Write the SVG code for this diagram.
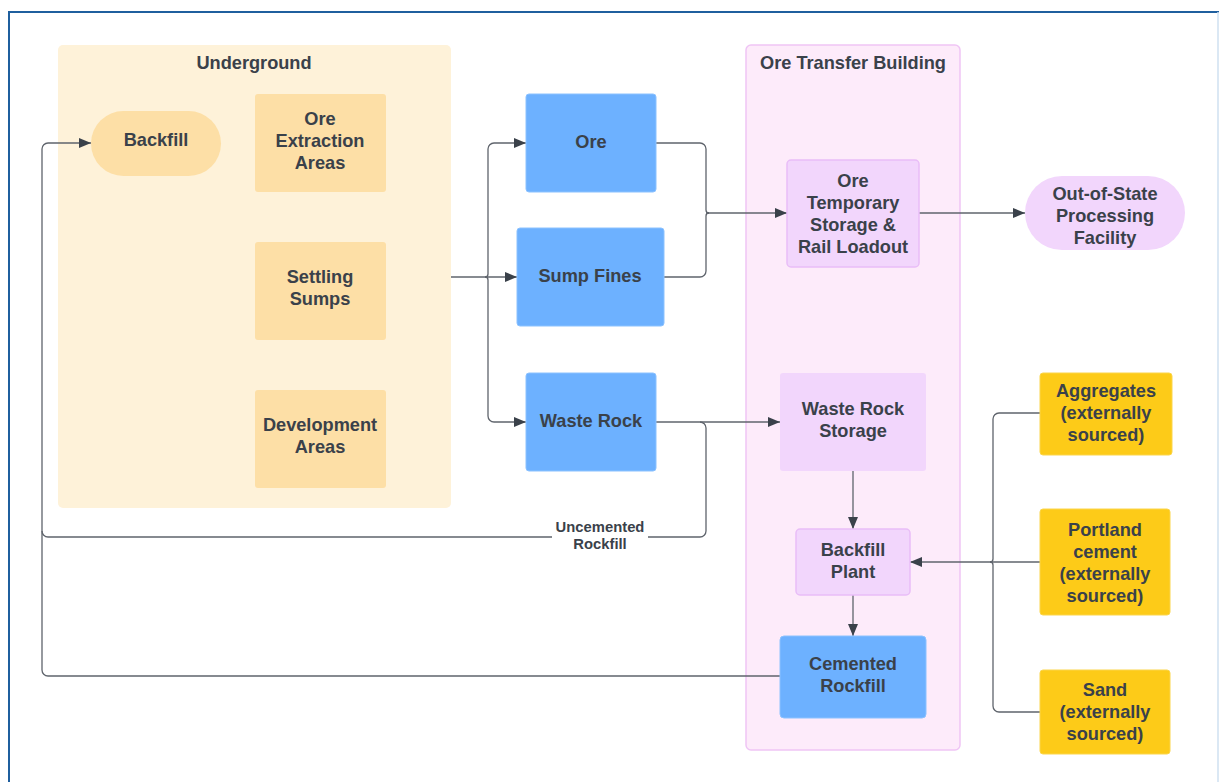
<svg xmlns="http://www.w3.org/2000/svg" width="1219" height="782" viewBox="0 0 1219 782">
<defs>
<marker id="arr" viewBox="0 0 12 10" refX="12" refY="5" markerWidth="12" markerHeight="10" markerUnits="userSpaceOnUse" orient="auto">
<path d="M0,0 L12,5 L0,10 Z" fill="#3a414a"/>
</marker>
<style>
text{font-family:"Liberation Sans",Arial,sans-serif;font-weight:bold;font-size:18.2px;fill:#3a414a;text-anchor:middle;dominant-baseline:central}
.c{fill:none;stroke:#5f646c;stroke-width:1.3}
.ca{fill:none;stroke:#5f646c;stroke-width:1.3;marker-end:url(#arr)}
.ug{fill:#fef2d9}
.org{fill:#fddfa6}
.blue{fill:#6db1ff;stroke:#8cc2ff;stroke-width:1}
.otb{fill:#fdebfa;stroke:#efc5f5;stroke-width:1.5}
.pur{fill:#f2d6fc;stroke:#e9bdf7;stroke-width:1.5}
.yel{fill:#fdcb18;stroke:#fbd54a;stroke-width:1}
</style>
</defs>
<rect width="1219" height="782" fill="#ffffff"/>
<path d="M9,782 V12 H1219" fill="none" stroke="#1f5f9e" stroke-width="2"/>
<path d="M1218,12 V782" fill="none" stroke="#cfe0f0" stroke-width="1.5"/>

<g id="underground">
<rect class="ug" x="58" y="45" width="393" height="463" rx="5"/>
<text x="254" y="63">Underground</text>
</g>
<g id="ore-transfer-building">
<rect class="otb" x="746" y="45" width="214" height="705" rx="5"/>
<text x="853" y="63">Ore Transfer Building</text>
</g>

<g id="connectors">
<path class="ca" d="M451,277 H517"/>
<path class="ca" d="M485,277 A3,3 0 0 0 488,274 V149 A6,6 0 0 1 494,143 H526"/>
<path class="ca" d="M485,277 A3,3 0 0 1 488,280 V416 A6,6 0 0 0 494,422 H526"/>
<path class="c" d="M656,143 H700 A6,6 0 0 1 706,149 V210 A3,3 0 0 0 709,213"/>
<path class="c" d="M664,277 H700 A6,6 0 0 0 706,271 V216 A3,3 0 0 1 709,213"/>
<path class="ca" d="M706,213 H787"/>
<path class="ca" d="M919,213 H1025"/>
<path class="ca" d="M656,422 H780"/>
<path class="c" d="M700,422 A6,6 0 0 1 706,428 V531 A6,6 0 0 1 700,537 H48 A6,6 0 0 1 42,531"/>
<path class="ca" d="M780,676 H48 A6,6 0 0 1 42,670 V149 A6,6 0 0 1 48,143 H91"/>
<path class="ca" d="M853,471 V529"/>
<path class="ca" d="M853,595 V636"/>
<path class="c" d="M1040,413 H999 A6,6 0 0 0 993,419 V559 A3,3 0 0 1 990,562"/>
<path class="c" d="M1040,712 H999 A6,6 0 0 1 993,706 V565 A3,3 0 0 0 990,562"/>
<path class="ca" d="M1040,562 H910"/>
<rect x="552" y="518" width="96" height="34" fill="#ffffff"/>
<text x="600" y="527" style="font-size:14.8px">Uncemented</text>
<text x="600" y="544" style="font-size:14.8px">Rockfill</text>
</g>

<g id="backfill">
<rect class="org" x="91" y="111" width="130" height="65" rx="32.5"/>
<text x="156" y="140">Backfill</text>
</g>
<g id="ore-extraction-areas">
<rect class="org" x="255" y="94" width="131" height="98" rx="3"/>
<text x="320" y="119">Ore</text>
<text x="320" y="141">Extraction</text>
<text x="320" y="163">Areas</text>
</g>
<g id="settling-sumps">
<rect class="org" x="255" y="242" width="131" height="98" rx="3"/>
<text x="320" y="277">Settling</text>
<text x="320" y="299">Sumps</text>
</g>
<g id="development-areas">
<rect class="org" x="255" y="390" width="131" height="98" rx="3"/>
<text x="320" y="425">Development</text>
<text x="320" y="447">Areas</text>
</g>
<g id="ore">
<rect class="blue" x="526" y="94" width="130" height="98" rx="3"/>
<text x="591" y="142">Ore</text>
</g>
<g id="sump-fines">
<rect class="blue" x="517" y="228" width="147" height="98" rx="3"/>
<text x="590" y="276">Sump Fines</text>
</g>
<g id="waste-rock">
<rect class="blue" x="526" y="373" width="130" height="98" rx="3"/>
<text x="591" y="421">Waste Rock</text>
</g>
<g id="ore-temporary-storage">
<rect class="pur" x="787" y="160" width="132" height="107" rx="4"/>
<text x="853" y="181">Ore</text>
<text x="853" y="203">Temporary</text>
<text x="853" y="225">Storage &amp;</text>
<text x="853" y="247">Rail Loadout</text>
</g>
<g id="out-of-state">
<rect class="pur" x="1025" y="176" width="160" height="74" rx="37" style="stroke:none"/>
<text x="1105" y="194">Out-of-State</text>
<text x="1105" y="216">Processing</text>
<text x="1105" y="238">Facility</text>
</g>
<g id="waste-rock-storage">
<rect class="pur" x="780" y="373" width="146" height="98" rx="3" style="stroke:none"/>
<text x="853" y="409">Waste Rock</text>
<text x="853" y="431">Storage</text>
</g>
<g id="backfill-plant">
<rect class="pur" x="796" y="529" width="114" height="66" rx="4"/>
<text x="853" y="550">Backfill</text>
<text x="853" y="572">Plant</text>
</g>
<g id="cemented-rockfill">
<rect class="blue" x="780" y="636" width="146" height="82" rx="4"/>
<text x="853" y="664">Cemented</text>
<text x="853" y="686">Rockfill</text>
</g>
<g id="aggregates">
<rect class="yel" x="1040" y="373" width="132" height="82" rx="3"/>
<text x="1106" y="391">Aggregates</text>
<text x="1106" y="413">(externally</text>
<text x="1106" y="435">sourced)</text>
</g>
<g id="portland-cement">
<rect class="yel" x="1040" y="509" width="130" height="106" rx="3"/>
<text x="1105" y="530">Portland</text>
<text x="1105" y="552">cement</text>
<text x="1105" y="574">(externally</text>
<text x="1105" y="596">sourced)</text>
</g>
<g id="sand">
<rect class="yel" x="1040" y="670" width="130" height="84" rx="3"/>
<text x="1105" y="690">Sand</text>
<text x="1105" y="712">(externally</text>
<text x="1105" y="734">sourced)</text>
</g>
</svg>
